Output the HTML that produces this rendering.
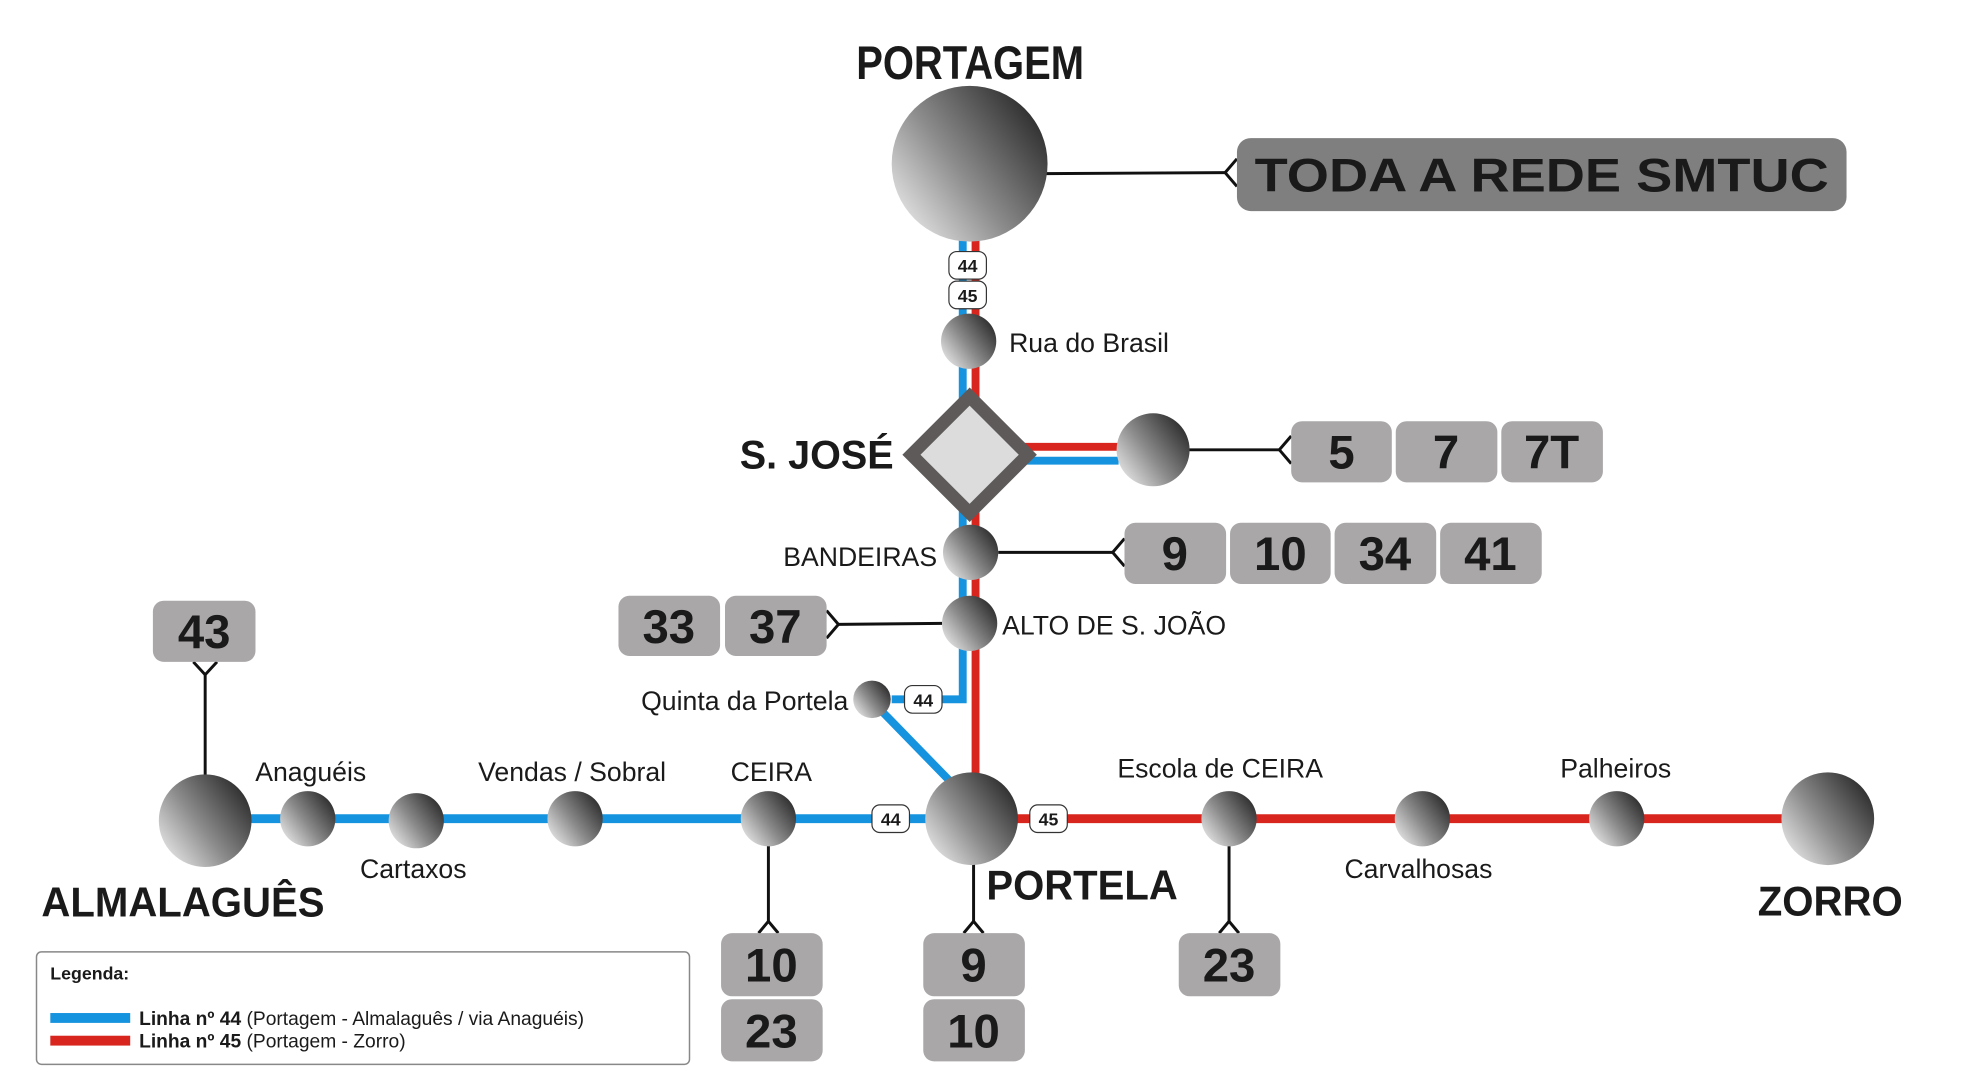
<!DOCTYPE html>
<html><head><meta charset="utf-8"><style>
html,body{margin:0;padding:0;background:#fff;}
svg{display:block;}
.b{font-family:"Liberation Sans",Arial,sans-serif;font-weight:bold;fill:#1a1a1a;}
.n{font-family:"Liberation Sans",Arial,sans-serif;fill:#1a1a1a;}
.c{font-family:"Liberation Sans",sans-serif;font-weight:bold;fill:#1a1a1a;}
</style></head><body>
<svg width="1969" height="1080" viewBox="0 0 1969 1080" xmlns="http://www.w3.org/2000/svg">
<defs>
<linearGradient id="g" x1="0" y1="1" x2="1" y2="0.25">
<stop offset="0" stop-color="#fbfbfb"/><stop offset="0.5" stop-color="#8c8c8c"/><stop offset="1" stop-color="#2c2c2c"/>
</linearGradient>
</defs>
<g transform="scale(0.9864)">
<g stroke="#111" stroke-width="3" fill="none">
<line x1="1060" y1="176" x2="1242" y2="175"/><polyline points="1254,161 1242,175 1254,189"/>
<line x1="1204" y1="456" x2="1297" y2="456"/><polyline points="1309,442 1297,456 1309,470"/>
<line x1="1012" y1="560" x2="1128" y2="560"/><polyline points="1140,546 1128,560 1140,574"/>
<line x1="955" y1="632" x2="850" y2="633"/><polyline points="838,619 850,633 838,647"/>
<line x1="208" y1="786" x2="208" y2="684"/><polyline points="196,671 208,684 220,671"/>
<line x1="779" y1="856" x2="779" y2="934"/><polyline points="769,946 779,934 789,946"/>
<line x1="987" y1="876" x2="987" y2="934"/><polyline points="977,946 987,934 997,946"/>
<line x1="1246" y1="856" x2="1246" y2="934"/><polyline points="1236,946 1246,934 1256,946"/>
</g>
<g fill="none" stroke-width="8">
<line x1="989" y1="230" x2="989" y2="800" stroke="#d8261f"/>
<polyline points="976,230 976,709 904,709" stroke="#1693de"/>
<line x1="893" y1="720" x2="968" y2="797" stroke="#1693de"/>
<line x1="1038" y1="453" x2="1134" y2="453" stroke="#d8261f"/>
<line x1="1038" y1="467" x2="1134" y2="467" stroke="#1693de"/>
<line x1="250" y1="830" x2="945" y2="830" stroke="#1693de" stroke-width="9"/>
<line x1="1025" y1="830" x2="1810" y2="830" stroke="#d8261f" stroke-width="9"/>
</g>
<polygon points="983,402 1042,461 983,520 924,461" fill="#dcdcdc" stroke="#5e5a5a" stroke-width="13" stroke-linejoin="miter"/>
<g fill="url(#g)">
<circle cx="983" cy="166" r="79"/>
<circle cx="982" cy="346" r="28"/>
<circle cx="1169" cy="456" r="37"/>
<circle cx="984" cy="560" r="28"/>
<circle cx="983" cy="632" r="28"/>
<circle cx="884" cy="709" r="19"/>
<circle cx="985" cy="830" r="47"/>
<circle cx="208" cy="832" r="47"/>
<circle cx="312" cy="830" r="28"/>
<circle cx="422" cy="832" r="28"/>
<circle cx="583" cy="830" r="28"/>
<circle cx="779" cy="830" r="28"/>
<circle cx="1246" cy="830" r="28"/>
<circle cx="1442" cy="830" r="28"/>
<circle cx="1639" cy="830" r="28"/>
<circle cx="1853" cy="830" r="47"/>
</g>
<g fill="#fff" stroke="#333" stroke-width="1.2">
<rect x="962" y="255" width="38" height="28" rx="8"/>
<rect x="962" y="285" width="38" height="28" rx="8"/>
<rect x="917" y="695" width="38" height="28" rx="8"/>
<rect x="884" y="816" width="38" height="28" rx="8"/>
<rect x="1044" y="816" width="38" height="28" rx="8"/>
</g>
<g class="b" font-size="18" text-anchor="middle">
<text x="981" y="276">44</text><text x="981" y="306">45</text>
<text x="936" y="716">44</text><text x="903" y="837">44</text><text x="1063" y="837">45</text>
</g>
<rect x="1254" y="140" width="618" height="74" rx="14" fill="#7f7f7f"/>
<text class="b" x="1272" y="194" font-size="48" textLength="582" lengthAdjust="spacingAndGlyphs">TODA A REDE SMTUC</text>
<g fill="#a9a7a8">
<rect x="1309" y="427" width="102" height="62" rx="11"/><rect x="1415" y="427" width="103" height="62" rx="11"/><rect x="1522" y="427" width="103" height="62" rx="11"/>
<rect x="1140" y="530" width="103" height="62" rx="11"/><rect x="1247" y="530" width="102" height="62" rx="11"/><rect x="1353" y="530" width="103" height="62" rx="11"/><rect x="1460" y="530" width="103" height="62" rx="11"/>
<rect x="627" y="604" width="103" height="61" rx="11"/><rect x="735" y="604" width="103" height="61" rx="11"/>
<rect x="155" y="609" width="104" height="62" rx="11"/>
<rect x="731" y="946" width="103" height="64" rx="11"/><rect x="731" y="1013" width="103" height="63" rx="11"/>
<rect x="936" y="946" width="103" height="64" rx="11"/><rect x="936" y="1013" width="103" height="63" rx="11"/>
<rect x="1195" y="946" width="103" height="64" rx="11"/>
</g>
<g class="b" font-size="48" text-anchor="middle">
<text x="1360" y="475">5</text><text x="1466" y="475">7</text><text x="1573" y="475">7T</text>
<text x="1191" y="578">9</text><text x="1298" y="578">10</text><text x="1404" y="578">34</text><text x="1511" y="578">41</text>
<text x="678" y="652">33</text><text x="786" y="652">37</text>
<text x="207" y="657">43</text>
<text x="782" y="995">10</text><text x="782" y="1062">23</text>
<text x="987" y="995">9</text><text x="987" y="1062">10</text>
<text x="1246" y="995">23</text>
</g>
<g class="c">
<text x="868" y="80" font-size="48" textLength="231" lengthAdjust="spacingAndGlyphs">PORTAGEM</text>
<text x="750" y="475" font-size="40" textLength="156" lengthAdjust="spacingAndGlyphs">S. JOSÉ</text>
<text x="1000" y="912" font-size="42" textLength="194" lengthAdjust="spacingAndGlyphs">PORTELA</text>
<text x="42" y="929" font-size="42" textLength="287" lengthAdjust="spacingAndGlyphs">ALMALAGUÊS</text>
<text x="1782" y="928" font-size="42" textLength="147" lengthAdjust="spacingAndGlyphs">ZORRO</text>
</g>
<g class="n" font-size="27">
<text x="1023" y="357">Rua do Brasil</text>
<text x="950" y="574" text-anchor="end">BANDEIRAS</text>
<text x="1016" y="643">ALTO DE S. JOÃO</text>
<text x="860" y="720" text-anchor="end">Quinta da Portela</text>
<text x="315" y="792" text-anchor="middle">Anaguéis</text>
<text x="419" y="890" text-anchor="middle">Cartaxos</text>
<text x="580" y="792" text-anchor="middle">Vendas / Sobral</text>
<text x="782" y="792" text-anchor="middle">CEIRA</text>
<text x="1237" y="788" text-anchor="middle">Escola de CEIRA</text>
<text x="1438" y="890" text-anchor="middle">Carvalhosas</text>
<text x="1638" y="788" text-anchor="middle">Palheiros</text>
</g>
<rect x="37" y="965" width="662" height="114" rx="5" fill="#fff" stroke="#888" stroke-width="1.5"/>
<text class="b" x="51" y="993" font-size="18">Legenda:</text>
<rect x="51" y="1027" width="81" height="10" fill="#1693de"/>
<rect x="51" y="1050" width="81" height="10" fill="#d8261f"/>
<text class="n" x="141" y="1039" font-size="19.5"><tspan font-weight="bold">Linha nº 44</tspan> (Portagem - Almalaguês / via Anaguéis)</text>
<text class="n" x="141" y="1062" font-size="19.5"><tspan font-weight="bold">Linha nº 45</tspan> (Portagem - Zorro)</text>
</g>
</svg>
</body></html>
